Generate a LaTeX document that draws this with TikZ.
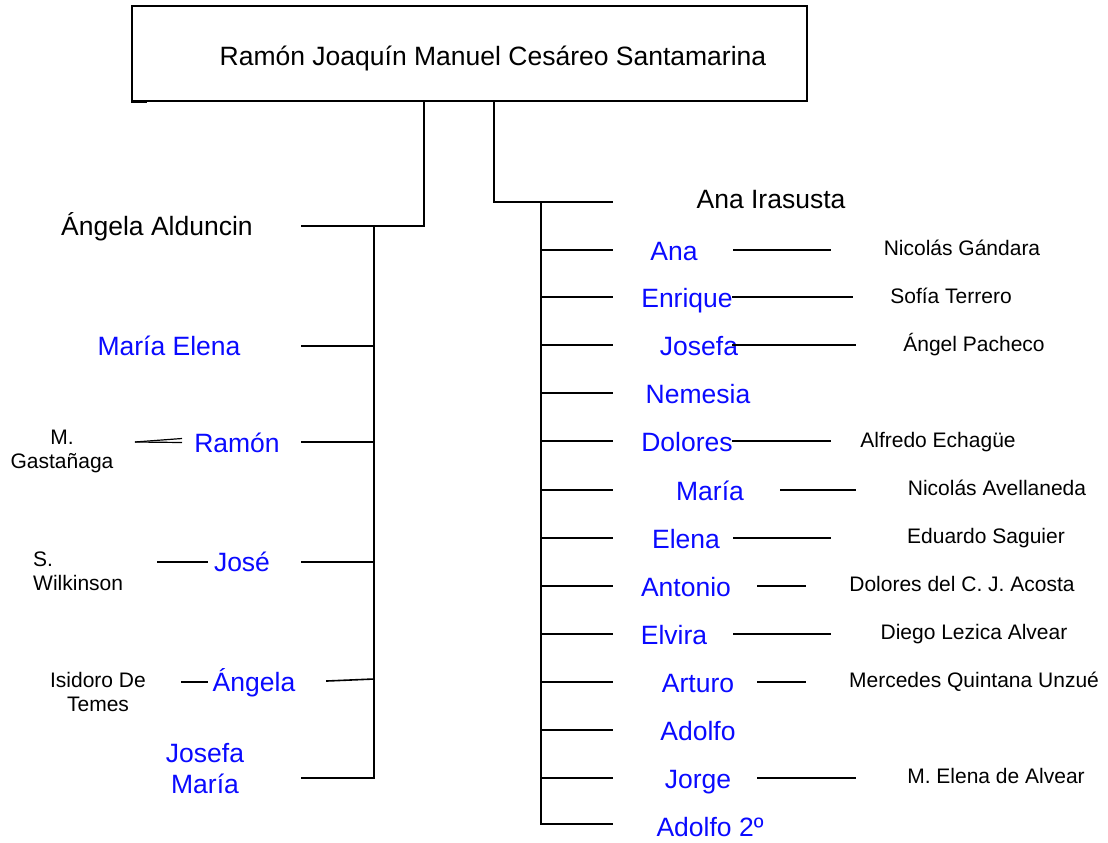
\documentclass[tikz,border=0pt]{standalone}
\usepackage{fontspec}
\setmainfont{Liberation Sans}
\definecolor{kidblue}{RGB}{10,10,255}
\begin{document}
\begin{tikzpicture}[x=1pt,y=-1pt,
  big/.style={font=\fontsize{26.5}{31}\selectfont, inner sep=0pt, anchor=base},
  kid/.style={big, text=kidblue},
  small/.style={font=\fontsize{21}{24}\selectfont, inner sep=0pt, anchor=base},
  link/.style={line width=1.6pt, line cap=rect},
  boxline/.style={line width=1.5pt}]
\useasboundingbox (0,0) rectangle (1108,843);

% root box
\node[boxline, draw, minimum width=675pt, minimum height=95pt, inner sep=0pt] (rootbox) at (469.5,53.5) {};
\draw[line width=2pt] (rootbox.south west) -- ++(16,0);
\node[big] (root) at (493,66) {Ramón Joaquín Manuel Cesáreo Santamarina};

% ---------- left family ----------
\coordinate (ltop) at (424,101);
\coordinate (lcorner) at (424,226);
\coordinate (lend) at (302,226);
\coordinate (ltrunktop) at (374,226);
\coordinate (ltrunkbot) at (374,778);
\draw[link] (ltop) -- (lcorner) -- (lend);
\draw[link] (ltrunktop) -- (ltrunkbot);

\node[big] (alduncin) at (157,235) {Ángela Alduncin};
\node[kid] (mariaelena) at (169,355) {María Elena};
\node[kid] (ramon) at (237,452) {Ramón};
\node[kid] (jose) at (242,571) {José};
\node[kid] (angela) at (254,691) {Ángela};
\node[kid, anchor=center, align=center] (josefamaria) at (205,769) {Josefa\\María};

\node[small, anchor=center, align=center] (gastanaga) at (62,451.5) {M.\\Gastañaga};
\node[small, anchor=west, align=left] (wilkinson) at (33,571.5) {S.\\Wilkinson};
\node[small, anchor=center, align=center] (temes) at (98,691.5) {Isidoro De\\Temes};

\foreach \yy/\nm in {346/me,442/ra,562/jo,778/jm}{
  \coordinate (l\nm a) at (302,\yy);
  \coordinate (l\nm b) at (374,\yy);
  \draw[link] (l\nm a) -- (l\nm b);
}
\coordinate (lana) at (327,681);
\coordinate (lanb) at (374,679);
\draw[link] (lana) -- (lanb);

% left spouse links
\coordinate (sra) at (135,442);
\coordinate (srb) at (182,438.5);
\coordinate (src) at (182,442.5);
\draw[line width=1.2pt] (sra) -- (srb);
\draw[line width=1.2pt] (sra) -- (src);
\coordinate (sja) at (158,562);
\coordinate (sjb) at (207,562);
\draw[link] (sja) -- (sjb);
\coordinate (saa) at (182,682);
\coordinate (sab) at (207,682);
\draw[link] (saa) -- (sab);

% ---------- right family ----------
\coordinate (rtop) at (494,101);
\coordinate (rcorner) at (494,202);
\coordinate (rend) at (612,202);
\coordinate (rtrunktop) at (541,202);
\coordinate (rtrunkbot) at (541,824);
\draw[link] (rtop) -- (rcorner) -- (rend);
\draw[link] (rtrunktop) -- (rtrunkbot) -- (612,824);

\node[big] (irasusta) at (771,208) {Ana Irasusta};

\foreach \yy in {250,297,345,393,441,490,538,586,634,682,730,778}{
  \draw[link] (541,\yy) -- (612,\yy);
}

\node[kid] (ana) at (674,260) {Ana};
\node[kid] (enrique) at (687,307) {Enrique};
\node[kid] (josefa) at (699,355) {Josefa};
\node[kid] (nemesia) at (698,403) {Nemesia};
\node[kid] (dolores) at (687,451) {Dolores};
\node[kid] (maria) at (710,500) {María};
\node[kid] (elena) at (686,548) {Elena};
\node[kid] (antonio) at (686,596) {Antonio};
\node[kid] (elvira) at (674,644) {Elvira};
\node[kid] (arturo) at (698,692) {Arturo};
\node[kid] (adolfo) at (698,740) {Adolfo};
\node[kid] (jorge) at (698,788) {Jorge};
\node[kid] (adolfob) at (710,836) {Adolfo 2º};

\node[small] (gandara) at (962,255) {Nicolás Gándara};
\node[small] (terrero) at (951,303) {Sofía Terrero};
\node[small] (pacheco) at (974,351) {Ángel Pacheco};
\node[small] (echague) at (938,447) {Alfredo Echagüe};
\node[small] (avellaneda) at (997,495) {Nicolás Avellaneda};
\node[small] (saguier) at (986,543) {Eduardo Saguier};
\node[small] (acosta) at (962,591) {Dolores del C. J. Acosta};
\node[small] (lezica) at (974,639) {Diego Lezica Alvear};
\node[small] (unzue) at (974,687) {Mercedes Quintana Unzué};
\node[small] (alvear) at (996,783) {M. Elena de Alvear};

% right spouse links
\foreach \xa/\xb/\yy in {734/830/250, 733/852/297, 733/855/345, 733/830/441, 781/855/490, 734/830/538, 758/805/586, 734/830/634, 758/805/682, 758/855/778}{
  \draw[link] (\xa,\yy) -- (\xb,\yy);
}
\end{tikzpicture}
\end{document}
